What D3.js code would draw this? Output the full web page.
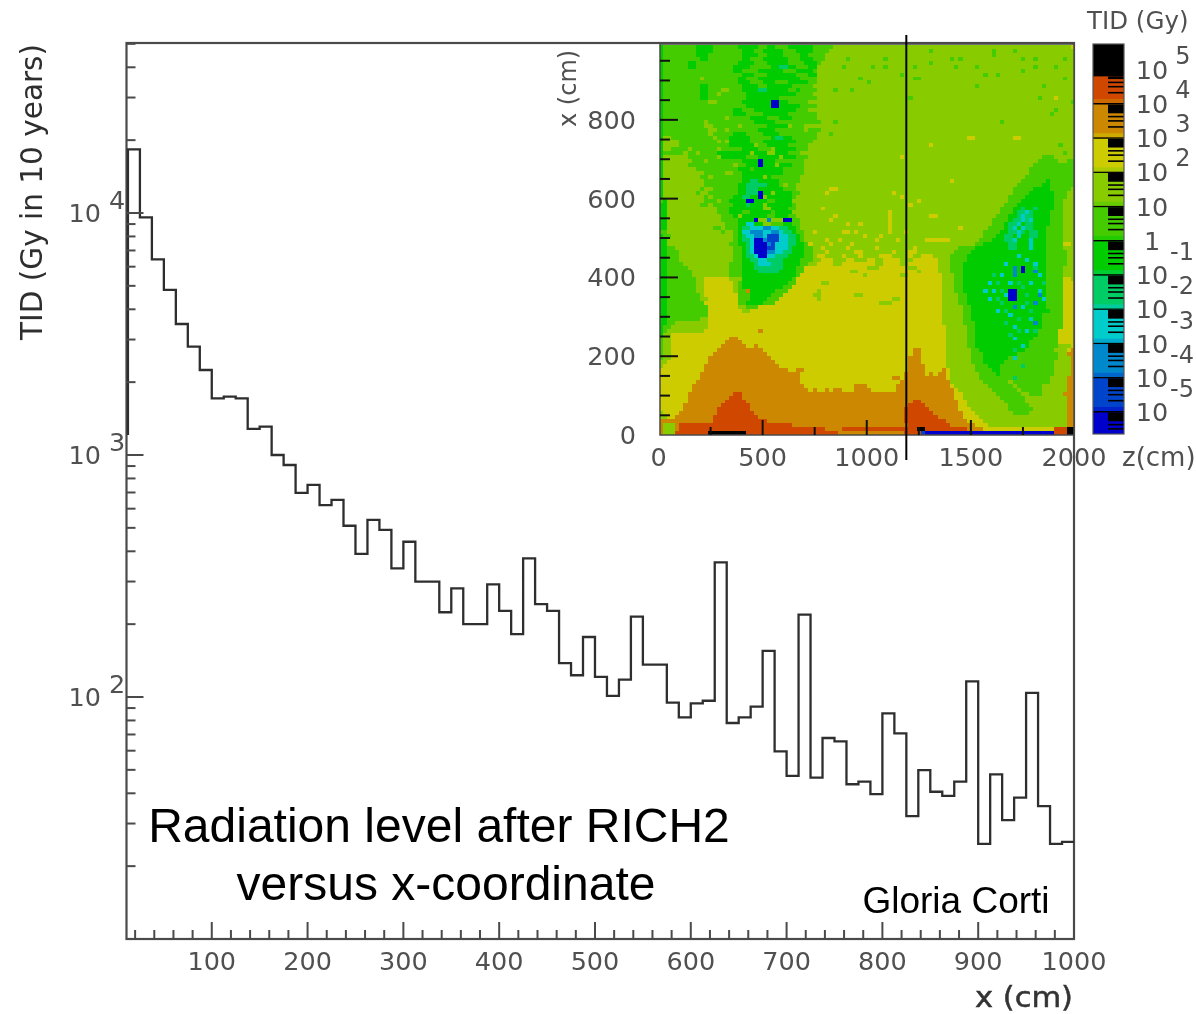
<!DOCTYPE html>
<html>
<head>
<meta charset="utf-8">
<script src="https://cdn.jsdelivr.net/npm/d3@7"></script>
<style>
    html, body { margin: 0; padding: 0; background: #fff; }
    text { font-family: "DejaVu Sans", sans-serif; fill: #505050; }
    .note { font-family: "Liberation Sans", Arial, sans-serif; fill: #000; }
</style>
</head>
<body>
<svg id="chart" width="1196" height="1014"></svg>
<script>
// Histogram: TID per 12.5 cm bin, first bin starts at x = 12.5
const binWidth = 12.5;
const firstEdge = 12.5;
const startValue = 1210;
const histValues = [
    18320, 9600, 6436, 4808, 3478, 2802, 2245, 1715, 1741, 1715,
    1281, 1309, 1000, 909, 697, 752, 621, 652, 510, 390,
    539, 490, 340, 438, 300, 300, 224, 281, 200, 200,
    292, 227, 182, 374, 242, 227, 138, 123, 177, 121,
    101, 118, 215, 136, 136, 94.7, 82.4, 94.2, 96.5, 360,
    78.1, 82.4, 91.2, 155, 59.6, 47.2, 219, 46.4, 67.7, 65.6,
    43.6, 44.7, 39.7, 85.6, 70.8, 32.2, 49.9, 40.6, 39, 44.7,
    116, 24.7, 47.9, 31, 38.4, 104, 35.4, 24.7, 25.2
];
const xMajorTicks = [100, 200, 300, 400, 500, 600, 700, 800, 900, 1000];
const yDecades = [2, 3, 4];

// Inset map: 100 columns of 20 cm (z), 99 rows of 10 cm (x), top row first.
// Each row is a list of level letter + column where that run ends.
const heatRows = [
    "F1 E9 F13 E19 F24 E26 F28 E31 F37 E42 D100",
    "F1 E9 F13 E20 F23 E25 F30 E33 F37 E41 D100",
    "F1 E9 F12 E20 F24 E26 F30 E34 F36 E40 D100",
    "F1 E10 F12 E20 F22 E25 F31 E34 F37 E40 D100",
    "F1 E7 F9 E19 F23 E26 F31 E35 F38 E39 D100",
    "F1 E7 F9 E18 F22 E27 F29 G31 F33 E36 F38 D100",
    "F1 E18 F20 E24 F30 E33 F37 E38 D100",
    "F1 E20 F23 E26 F33 E36 F38 D100",
    "F1 E10 D11 E19 F21 E24 F34 E38 D100",
    "F1 E19 F22 E25 F28 E31 F36 E38 D100",
    "F1 E10 F12 E20 F24 E26 F32 E37 D100",
    "F1 E10 F12 E15 D17 E20 F24 G26 F31 E33 F34 E38 D100",
    "F1 E10 F12 E14 D15 E21 F33 E37 D100",
    "F1 E10 F12 E21 F29 E38 D100",
    "F1 E12 D14 E20 F27 K29 F31 E36 D100",
    "F1 E21 F27 K29 F34 E38 D100",
    "F1 E18 F20 E23 F33 E36 D100",
    "F1 E18 F21 E25 F31 E38 D100",
    "F1 E16 D17 E22 F26 E29 F32 E38 D100",
    "F1 E11 D12 E23 F28 E39 D100",
    "F1 E11 D13 E19 D20 E26 F31 D32 E35 D100",
    "F1 E12 D14 E16 D17 E24 F28 E35 D36 E39 D100",
    "F1 E12 D13 E18 F21 E25 F29 E38 D100",
    "F1 D3 E13 D14 E17 F22 E27 F28 G30 F32 E38 D100",
    "F1 D5 E14 D15 E16 D17 F22 E25 F33 E37 D100",
    "F1 D5 E17 F23 D24 E26 F31 E36 D100",
    "F1 D3 E7 D8 E14 D15 E20 F24 E27 D28 F33 E36 D100",
    "F1 E6 D7 E9 D10 E14 F22 D23 F26 D28 F31 E34 D100",
    "F1 D7 E14 D15 F21 E24 F29 D30 F33 E36 D92 E95 D100",
    "F1 D8 E11 D12 E20 F28 E35 D91 E96 D98 E100",
    "F1 D7 E18 D19 E21 F28 D29 F32 E35 D90 E100",
    "F1 D9 E19 F22 E23 F30 E35 D89 E100",
    "F1 D11 E16 D18 E20 F30 E35 D89 E100",
    "F1 D10 E12 D13 E20 F25 D26 F27 E34 D88 E100",
    "F1 D11 E20 F22 G24 F29 E34 D87 E93 F94 E100",
    "F1 D11 E19 F21 G26 F29 E30 D31 E33 D86 E92 F94 E100",
    "F1 D10 E11 D13 E19 F21 G24 F30 E33 D85 E90 F94 E99 D100",
    "F1 D9 E10 D12 E19 F21 G25 F27 D28 F32 E34 D85 E89 F95 E98 D100",
    "F1 D11 E12 D13 E18 F20 G22 F24 D26 F32 E33 D84 E88 F95 E98 D100",
    "E1 F2 D11 E14 D15 E17 F21 K23 F26 E28 F32 D84 E87 F95 E97 D100",
    "F2 D10 E12 D13 E18 F21 G22 F25 D26 F32 E33 D83 E86 F95 E97 D100",
    "F2 D14 E17 F25 D27 F31 E33 D82 E85 F87 G88 F90 G91 F95 E97 D100",
    "F2 D14 E17 F20 E22 F27 E28 F32 D82 E85 F86 G88 H89 G90 F94 E97 D100",
    "F2 D15 E18 F19 D20 F26 E28 F31 E33 D81 E84 F86 G87 H88 G90 F94 E97 D100",
    "F2 D15 E19 F23 K24 D26 I27 D30 K32 E34 D80 E84 F85 G87 H88 G89 H90 F94 E97 D100",
    "F2 D16 E19 F21 H23 F25 D27 E30 F32 E34 D80 E83 F84 G86 H87 F88 G90 F94 E97 D100",
    "F2 D13 E15 D16 E19 F20 G22 H25 I27 H29 G31 F33 E34 D79 E83 F84 G85 H86 F87 H88 G90 F93 E97 D100",
    "E2 D15 E16 D18 E19 F20 H22 I25 H27 I29 H30 G32 F33 E35 D78 E82 F84 G86 H87 G88 F89 G91 F93 E97 D100",
    "F1 E3 D18 E19 F20 G21 H23 I25 H26 J29 H31 G33 F34 E35 D78 E81 F83 G85 F86 H87 F89 G91 F93 E97 D100",
    "F2 D18 E19 F20 G22 H23 K25 I26 J29 H31 G33 F34 E35 D64 C70 D77 E80 F83 G85 H86 F89 H90 F93 E97 D100",
    "F2 D17 E19 F21 G22 H23 K26 I27 J28 H31 G33 F35 E36 D76 E78 F84 G86 F89 H90 F93 E97 C99 D100",
    "F2 E4 D18 E20 F21 G22 H23 K26 J28 H31 G32 F35 E37 D39 C40 D45 C46 D52 C53 D61 C62 D72 E76 F84 G86 F89 H90 F93 E97 D100",
    "F2 E5 D18 E20 F21 G22 H23 K26 I28 H30 G32 F35 E37 D40 C41 D47 C49 D56 C57 D60 C62 D71 E75 F93 E98 D100",
    "F2 E5 D18 E20 F21 G23 H24 K26 H28 G31 F35 E37 D38 C40 D44 C45 D48 C49 D53 C56 D60 C61 D63 C66 D70 E74 F93 E98 D100",
    "F2 E5 D18 E20 F22 G24 H26 G30 F34 E37 D39 C42 D45 C47 D50 C52 D54 C58 D61 C67 D70 E74 F93 E98 D100",
    "F2 E6 D17 E20 F23 G24 H27 G30 F34 E36 D38 C42 D44 C52 D54 C58 D60 C67 D70 E73 F93 E98 D100",
    "F2 E7 D17 E20 F23 G30 F33 E35 C50 D53 C60 D62 C67 D70 E73 F93 E97 D100",
    "F2 E8 D17 E20 F24 G29 F33 E35 C46 D48 C62 D63 C67 D70 E73 F93 E97 D100",
    "F2 E8 D17 E20 F33 E34 C49 D50 C58 D60 C68 D71 E73 F93 E97 D100",
    "F2 E9 D11 C17 D20 F32 E33 C68 D71 E73 F93 E97 C99 D100",
    "F2 E9 D11 C18 D19 E20 F31 E33 C39 D41 C68 D71 E73 F93 E97 C100",
    "F2 E9 D11 C18 D19 E20 F30 E32 C68 D71 E73 F93 E97 C100",
    "F2 E9 D11 C18 D19 E21 F28 E31 C38 D39 C68 D71 E73 F93 E97 C100",
    "F2 E10 D11 C19 E22 F27 E30 C37 D39 C47 D49 C68 D72 E74 F93 E97 C100",
    "F2 E10 D12 C19 E22 F26 E29 C38 D39 C56 D58 C68 D72 E74 F93 E97 C100",
    "F2 E11 C19 E21 F25 E28 C53 D56 C68 D72 E74 F93 E97 C100",
    "F2 E12 C19 D21 E24 C68 D73 E75 F93 E97 C100",
    "F2 E12 C20 D22 C68 D73 E75 F94 E97 C100",
    "F2 E12 C68 D73 E75 F92 E97 C100",
    "F2 E10 D12 C68 D73 E75 F92 E97 C100",
    "F2 E4 D12 C68 D73 E76 F92 E97 C100",
    "F1 E3 D12 C69 D74 E76 F92 E97 C100",
    "F1 E2 D11 C69 D74 E76 F91 E96 C100",
    "F1 D3 C69 D74 E76 F91 E96 C100",
    "E1 D3 C17 B19 C69 D74 E76 F90 E96 C100",
    "E1 D3 C16 B20 C69 D74 E76 F89 E96 C100",
    "E1 D3 C15 B21 C23 B24 C69 D74 E76 F89 E96 D99 C100",
    "E1 D3 C14 B25 C61 B63 C69 D75 E77 F88 E95 D98 C99 B100",
    "E1 D3 C13 B26 C61 B63 C69 D75 E78 F86 E96 D98 B100",
    "E1 D3 C12 B27 C60 B63 C69 D75 E78 F84 E96 D99 B100",
    "D2 C12 B28 C60 B63 C69 D75 E78 F83 E95 D99 B100",
    "D1 C11 B29 C60 B64 C69 D76 E79 F82 E95 D99 B100",
    "C11 B31 C33 B35 C60 B64 C68 B69 C70 D76 E80 F82 E95 D99 B100",
    "C10 B34 C59 B64 C65 B66 C67 B69 C70 D77 E81 F82 E95 D99 B100",
    "C10 B34 C56 B57 C59 B69 C70 D77 E82 E94 D98 B100",
    "C9 B34 C58 B70 D78 E84 D85 E94 D98 B100",
    "C8 B35 C47 B50 C57 B70 C71 D79 E85 D86 E92 D98 B100",
    "C8 B36 C37 B38 C40 B41 C42 B44 C47 B51 C57 B71 C72 D80 E86 D87 E92 D98 B100",
    "C7 B18 A20 B71 C73 D81 E87 D89 E92 D97 B100",
    "C7 B17 A20 B71 C73 D82 E88 D98 B100",
    "C7 B16 A21 B61 A63 B72 C74 D83 E88 D98 B100",
    "C6 B15 A22 B60 A64 B72 C74 D84 E89 D98 B100",
    "C6 B14 A22 B59 A65 B72 C75 D84 E90 D98 B100",
    "D1 C5 B14 A23 B59 A66 B73 C76 D85 E89 D98 B100",
    "D2 C4 B13 A24 B59 A67 B73 C77 D98 B100",
    "B13 A26 B59 A69 B74 C78 D98 B100",
    "B1 D4 B5 A32 B60 A70 B76 C79 D98 B100",
    "B1 D4 B5 A40 B44 A62 Z64 A74 B78 C95 A98 Z100",
    "B1 D4 A12 Z21 A43 B59 A63 J64 K95 A98 Z100"
];
// Isolated cells: column, row, level
const heatSpecks = [
    [65, 1, "E"], [65, 4, "E"], [70, 3, "E"], [72, 3, "E"], [71, 5, "E"], [76, 5, "E"], [80, 1, "E"], [80, 2, "E"],
    [85, 1, "E"], [87, 3, "E"], [90, 3, "E"], [90, 5, "E"], [87, 6, "E"], [81, 7, "E"], [78, 7, "E"], [95, 5, "E"],
    [97, 3, "E"], [97, 8, "E"], [62, 8, "E"], [61, 5, "E"], [76, 10, "E"], [92, 10, "E"], [91, 13, "E"], [82, 19, "E"],
    [95, 16, "E"], [94, 17, "E"], [99, 14, "E"], [96, 25, "E"], [97, 27, "E"], [42, 11, "E"], [46, 11, "E"], [48, 8, "E"],
    [50, 9, "E"], [54, 5, "E"], [54, 3, "E"], [51, 5, "E"], [44, 5, "E"], [45, 3, "E"], [42, 19, "E"], [41, 22, "E"],
    [58, 7, "E"], [60, 13, "E"], [61, 8, "E"], [99, 0, "C"],
    [95, 13, "C"], [74, 23, "C"], [75, 23, "C"], [85, 23, "C"], [86, 23, "C"], [65, 25, "C"], [70, 34, "C"], [62, 39, "C"],
    [65, 43, "C"], [66, 43, "C"], [72, 46, "C"], [41, 36, "C"], [42, 36, "C"], [40, 37, "C"], [56, 37, "C"], [58, 38, "C"],
    [60, 40, "C"], [39, 41, "C"], [42, 43, "C"], [41, 44, "C"], [55, 42, "C"], [55, 43, "C"], [55, 44, "C"], [55, 45, "C"],
    [55, 46, "C"], [55, 47, "C"], [45, 45, "C"], [48, 45, "C"], [58, 28, "C"], [37, 47, "C"], [40, 49, "C"], [44, 47, "C"],
    [45, 47, "C"], [47, 47, "C"], [36, 50, "C"], [41, 50, "C"], [49, 48, "C"], [52, 49, "C"], [57, 49, "C"], [59, 47, "C"],
    [43, 49, "C"], [46, 50, "C"], [53, 48, "C"],
    [24, 72, "B"], [21, 62, "B"], [57, 84, "B"],
    [24, 29, "K"], [24, 30, "K"], [24, 37, "K"], [24, 38, "K"],
    [79, 60, "H"], [78, 62, "H"], [80, 62, "H"], [79, 64, "H"], [81, 67, "H"], [83, 55, "H"], [82, 58, "H"], [84, 60, "H"],
    [83, 63, "H"], [86, 53, "H"], [88, 54, "H"], [90, 55, "H"], [91, 58, "H"], [89, 60, "H"], [91, 62, "H"], [92, 64, "H"],
    [87, 66, "H"], [84, 68, "H"], [89, 69, "H"], [85, 71, "H"], [88, 72, "H"], [85, 74, "H"], [87, 76, "H"], [85, 79, "H"],
    [80, 58, "G"], [81, 60, "G"], [82, 62, "G"], [81, 64, "G"], [82, 65, "G"], [83, 67, "G"], [86, 60, "G"], [87, 61, "G"],
    [88, 63, "G"], [88, 65, "G"], [89, 67, "G"], [86, 69, "G"], [83, 70, "G"], [86, 72, "G"], [84, 73, "G"], [90, 72, "G"],
    [85, 77, "G"], [85, 84, "G"], [87, 81, "G"], [90, 56, "G"], [92, 60, "G"],
    [85, 56, "I"], [85, 57, "I"], [85, 58, "I"], [90, 57, "I"], [85, 66, "I"], [90, 65, "I"], [90, 70, "I"], [91, 63, "I"],
    [87, 56, "K"], [87, 57, "K"], [84, 62, "K"], [85, 62, "K"], [84, 63, "K"], [85, 63, "K"], [84, 64, "K"], [85, 64, "K"]
];
const heatLevels = ["Z", "A", "B", "C", "D", "E", "F", "G", "H", "I", "J", "K"];
const heatColors = ["#000000", "#d04800", "#cc8800", "#cccc00", "#88cc00", "#44cc00", "#00cc00", "#00cc66", "#00cccc", "#0088cc", "#0044cc", "#0000cc"];

// Colour bar: level letter for each decade, highest first
const barExponents = [4, 3, 2, 1, 0, -1, -2, -3, -4, -5, -6];
const barBands = ["A", "B", "C", "D", "E", "F", "G", "H", "I", "J", "K"];
const barLabels = [5, 4, 3, 2, 1, 0, -1, -2, -3, -4, -5];

const mapXTicks = [0, 500, 1000, 1500, 2000];
const mapYTicks = [0, 200, 400, 600, 800];

const svg = d3.select("#chart");
const blurred = svg.append("g").style("filter", "blur(0.65px)");
const colorOf = d3.scaleOrdinal().domain(heatLevels).range(heatColors);

// Main histogram
const x = d3.scaleLinear().domain([11, 1000]).range([126.5, 1074]);
const y = d3.scaleLog().domain([10, 50400]).range([939, 43]);

const histPoints = [[firstEdge, startValue]];
histValues.forEach((v, i) => histPoints.push([firstEdge + i * binWidth, v]));
histPoints.push([1000, histValues[histValues.length - 1]]);

const stepLine = d3.line()
    .x(d => x(d[0]))
    .y(d => y(d[1]))
    .curve(d3.curveStepAfter);

blurred.append("rect")
    .attr("x", x(11)).attr("y", y(50400))
    .attr("width", x(1000) - x(11)).attr("height", y(10) - y(50400))
    .attr("fill", "none").attr("stroke", "#4a4a4a").attr("stroke-width", 2.2);

blurred.append("path")
    .attr("d", stepLine(histPoints))
    .attr("fill", "none").attr("stroke", "#2e2e2e").attr("stroke-width", 2.3);

// x ticks every 20 cm, longer at each 100
const xTicks = d3.range(20, 1001, 20);
blurred.append("g").selectAll("line").data(xTicks).enter().append("line")
    .attr("x1", d => x(d)).attr("x2", d => x(d))
    .attr("y1", y(10))
    .attr("y2", d => y(10) - (d % 100 === 0 ? 17 : 9))
    .attr("stroke", "#4a4a4a").attr("stroke-width", 2);

blurred.append("g").selectAll("text").data(xMajorTicks).enter().append("text")
    .attr("x", d => x(d)).attr("y", 970)
    .attr("text-anchor", "middle").attr("font-size", 25.5)
    .text(d => d);

// y ticks on the log axis
const yTicks = y.ticks().filter(d => d > 10 && d < 50400);
blurred.append("g").selectAll("line").data(yTicks).enter().append("line")
    .attr("x1", x(11))
    .attr("x2", d => x(11) + (Math.abs(Math.log10(d) - Math.round(Math.log10(d))) < 1e-6 ? 17 : 9))
    .attr("y1", d => y(d)).attr("y2", d => y(d))
    .attr("stroke", "#4a4a4a").attr("stroke-width", 2);

const yLabels = blurred.append("g").selectAll("g").data(yDecades).enter().append("g");
yLabels.append("text")
    .attr("x", 101).attr("y", d => y(Math.pow(10, d)) + 9)
    .attr("text-anchor", "end").attr("font-size", 25.5)
    .text("10");
yLabels.append("text")
    .attr("x", 109).attr("y", d => y(Math.pow(10, d)) - 4)
    .attr("font-size", 25.5)
    .text(d => d);

blurred.append("text")
    .attr("transform", "translate(42,340) rotate(-90)")
    .attr("font-size", 30).attr("textLength", 296).attr("lengthAdjust", "spacingAndGlyphs")
    .style("fill", "#2e2e2e")
    .text("TID (Gy in 10 years)");
blurred.append("text")
    .attr("x", 975).attr("y", 1007)
    .attr("font-size", 28).attr("textLength", 98).attr("lengthAdjust", "spacingAndGlyphs")
    .attr("stroke", "#333").attr("stroke-width", 0.5)
    .style("fill", "#333")
    .text("x (cm)");

// Inset map
const mapX = d3.scaleLinear().domain([0, 2000]).range([658.5, 1075]);
const mapY = d3.scaleLinear().domain([0, 990]).range([435, 45]);
const frame = { left: 660, right: 1074, top: 44, bottom: 435 };

blurred.append("clipPath").attr("id", "map-clip")
    .append("rect")
    .attr("x", frame.left).attr("y", frame.top)
    .attr("width", frame.right - frame.left).attr("height", frame.bottom - frame.top);

const runs = [];
heatRows.forEach((row, r) => {
    let from = 0;
    row.split(" ").forEach(token => {
        const to = +token.slice(1);
        runs.push({ level: token[0], from, to, r });
        from = to;
    });
});
heatSpecks.forEach(s => runs.push({ level: s[2], from: s[0], to: s[0] + 1, r: s[1] }));

const mapG = blurred.append("g").attr("clip-path", "url(#map-clip)").attr("shape-rendering", "crispEdges");
mapG.selectAll("rect").data(runs).enter().append("rect")
    .attr("x", d => mapX(d.from * 20))
    .attr("width", d => mapX(d.to * 20) - mapX(d.from * 20))
    .attr("y", d => mapY((99 - d.r) * 10))
    .attr("height", d => mapY((98 - d.r) * 10) - mapY((99 - d.r) * 10))
    .attr("fill", d => colorOf(d.level));

blurred.append("rect")
    .attr("x", frame.left).attr("y", frame.top)
    .attr("width", frame.right - frame.left).attr("height", frame.bottom - frame.top)
    .attr("fill", "none").attr("stroke", "#4a4a4a").attr("stroke-width", 1.5);

// Inset ticks
const mapTickG = blurred.append("g").attr("stroke", "#111").attr("stroke-width", 2);
mapTickG.selectAll(".ty").data(d3.range(50, 1000, 50)).enter().append("line")
    .attr("x1", frame.left)
    .attr("x2", d => frame.left + (d % 200 === 0 ? 18 : 10))
    .attr("y1", d => mapY(d)).attr("y2", d => mapY(d));
mapTickG.selectAll(".tx").data(d3.range(250, 2000, 250)).enter().append("line")
    .attr("x1", d => mapX(d)).attr("x2", d => mapX(d))
    .attr("y1", frame.bottom)
    .attr("y2", d => frame.bottom - (d % 500 === 0 ? 15 : 8));

blurred.append("g").selectAll("text").data(mapYTicks).enter().append("text")
    .attr("x", 636).attr("y", d => mapY(d) + 9)
    .attr("text-anchor", "end").attr("font-size", 25.5)
    .text(d => d);
blurred.append("g").selectAll("text").data(mapXTicks).enter().append("text")
    .attr("x", d => mapX(d) - (d === 2000 ? 1 : 0)).attr("y", 466)
    .attr("text-anchor", "middle").attr("font-size", 25.5)
    .text(d => d);

blurred.append("text")
    .attr("transform", "translate(576,127) rotate(-90)")
    .attr("font-size", 24)
    .text("x (cm)");
blurred.append("text").attr("x", 1122).attr("y", 466).attr("font-size", 26).text("z(cm)");
blurred.append("text").attr("x", 1087).attr("y", 29).attr("font-size", 24.5).text("TID (Gy)");

// Colour bar
const barY = d3.scaleLog().domain([1e-5, 1e4]).range([411, 103]);
const barLeft = 1093, barMid = 1108, barRight = 1124, barTop = 44, barBottom = 434;
const barG = blurred.append("g");

barG.append("rect")
    .attr("x", barLeft).attr("y", barTop)
    .attr("width", barRight - barLeft).attr("height", barBottom - barTop)
    .attr("fill", "#000");

barExponents.forEach((k, i) => {
    const low = Math.pow(10, k);
    const bottom = Math.min(barY(low), barBottom);
    const top = k === 4 ? barY(6e4) : barY(low * 10) + 1.5;
    const color = colorOf(barBands[i]);
    const next = colorOf(barBands[i + 1] || barBands[i]);
    barG.append("rect")
        .attr("x", barLeft).attr("y", top)
        .attr("width", barRight - barLeft).attr("height", bottom - top)
        .attr("fill", color);
    barG.append("rect")
        .attr("x", barLeft).attr("y", bottom - 4)
        .attr("width", barRight - barLeft).attr("height", 4)
        .attr("fill", d3.interpolateRgb(color, next)(0.5));
    // minor ticks of the log scale cover the right half in black
    barG.append("rect")
        .attr("x", barMid).attr("y", top)
        .attr("width", barRight - barMid).attr("height", Math.max(0, barY(low * 5) - top))
        .attr("fill", "#000");
    [2, 3, 4].forEach(m => {
        if (barY(low * m) > bottom) return;
        barG.append("line")
            .attr("x1", barMid).attr("x2", barRight)
            .attr("y1", barY(low * m)).attr("y2", barY(low * m))
            .attr("stroke", "#000").attr("stroke-width", 1.6);
    });
});
barG.append("rect")
    .attr("x", barLeft).attr("y", barTop)
    .attr("width", barRight - barLeft).attr("height", barBottom - barTop)
    .attr("fill", "none").attr("stroke", "#555").attr("stroke-width", 1.2);

const barLabelG = blurred.append("g").selectAll("g").data(barLabels).enter().append("g");
barLabelG.append("text")
    .attr("x", 1152).attr("y", d => barY(Math.pow(10, d)) + 10)
    .attr("text-anchor", "middle").attr("font-size", 25.5)
    .text(d => d === 0 ? "1" : "10");
barLabelG.filter(d => d !== 0 && d !== 1).append("text")
    .attr("x", d => d < 0 ? 1194 : 1183)
    .attr("y", d => barY(Math.pow(10, d)) + (d < 0 ? -14 : -5))
    .attr("text-anchor", d => d < 0 ? "end" : "middle")
    .attr("font-size", 24)
    .text(d => d);

// Vertical marker over the map
blurred.append("line")
    .attr("x1", mapX(1190)).attr("x2", mapX(1190))
    .attr("y1", 35).attr("y2", 460)
    .attr("stroke", "#000").attr("stroke-width", 2);

// Annotations
const notes = [
    { t: "Radiation level after RICH2", x: 439, y: 842, size: 48 },
    { t: "versus x-coordinate", x: 446, y: 900, size: 48 },
    { t: "Gloria Corti", x: 956, y: 913, size: 37 }
];
svg.append("g").selectAll("text").data(notes).enter().append("text")
    .attr("class", "note")
    .attr("x", d => d.x).attr("y", d => d.y)
    .attr("text-anchor", "middle").attr("font-size", d => d.size)
    .text(d => d.t);
</script>
</body>
</html>
